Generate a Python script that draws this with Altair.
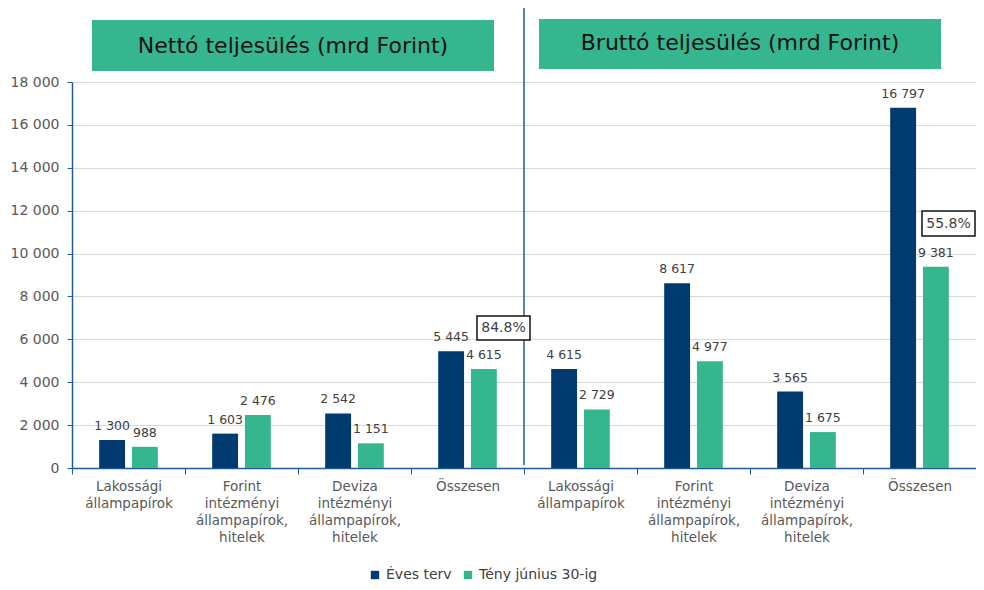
import altair as alt
import pandas as pd

groups = ["Nettó", "Nettó", "Nettó", "Nettó", "Bruttó", "Bruttó", "Bruttó", "Bruttó"]
categories = [
    "Lakossági|állampapírok",
    "Forint|intézményi|állampapírok,|hitelek",
    "Deviza|intézményi|állampapírok,|hitelek",
    "Összesen",
]
series = ["Éves terv", "Tény június 30-ig"]
eves_terv = [1300, 1603, 2542, 5445, 4615, 8617, 3565, 16797]
teny = [988, 2476, 1151, 4615, 2729, 4977, 1675, 9381]
headers = ["Nettó teljesülés (mrd Forint)", "Bruttó teljesülés (mrd Forint)"]
ratios = ["84.8%", "55.8%"]

NAVY = "#003a6f"
GREEN = "#35b68e"
AXIS_BLUE = "#1f5c99"

keys = [f"{g}|{c}" for g, c in zip(groups, categories * 2)]
rows = []
for k, a, b in zip(keys, eves_terv, teny):
    rows.append({"key": k, "series": series[0], "value": a})
    rows.append({"key": k, "series": series[1], "value": b})
df = pd.DataFrame(rows)

fmt = "replace(format(datum.value, ','), ',', ' ')"

x_scale = alt.Scale(domain=keys, paddingInner=0, paddingOuter=0)
x_enc = alt.X(
    "key:N", scale=x_scale,
    axis=alt.Axis(
        title=None, labelAngle=0, labelExpr="slice(split(datum.value, '|'), 1)",
        labelFontSize=13.5, labelColor="#595959", labelLineHeight=17,
        labelPadding=5, tickBand="extent", tickSize=6, tickColor=AXIS_BLUE,
        domainColor=AXIS_BLUE, domainWidth=1.5, grid=False, labelBaseline="top",
    ),
)
xo_scale = alt.Scale(domain=series, paddingInner=0.21, paddingOuter=0.83)
y_enc = alt.Y(
    "value:Q", scale=alt.Scale(domain=[0, 18000], nice=False),
    axis=alt.Axis(
        title=None, values=list(range(0, 18001, 2000)), labelExpr=fmt,
        labelFontSize=14, labelColor="#595959", labelPadding=8,
        tickSize=5, tickColor=AXIS_BLUE, domainColor=AXIS_BLUE, domainWidth=1.5,
        grid=True, gridColor="#d9d9d9", gridWidth=1.2,
    ),
)

base = alt.Chart(df)
bars = base.mark_bar().encode(
    x=x_enc, xOffset=alt.XOffset("series:N", scale=xo_scale), y=y_enc,
    color=alt.Color(
        "series:N",
        scale=alt.Scale(domain=series, range=[NAVY, GREEN]),
        legend=alt.Legend(
            title=None, orient="none", legendX=296, legendY=486,
            direction="horizontal", symbolType="square", symbolSize=70,
            labelFontSize=14, labelColor="#404040", columnPadding=9,
            symbolStrokeWidth=0,
        ),
    ),
)
labels = base.mark_text(dy=-14, fontSize=12.5, color="#404040").encode(
    x=alt.X("key:N", scale=x_scale), xOffset=alt.XOffset("series:N", scale=xo_scale),
    y="value:Q", text=alt.Text("label:N"),
).transform_calculate(label=fmt)

one = pd.DataFrame({"key": [keys[4]]})
divider = alt.Chart(one).mark_rule(color=AXIS_BLUE, strokeWidth=1.5).encode(
    x=alt.X("key:N", scale=x_scale, bandPosition=0), y=alt.value(-74), y2=alt.value(383)
)

dummy = pd.DataFrame({"d": [0]})
def rect(x, x2, y, y2, fill, stroke=None):
    kw = dict(fill=fill)
    if stroke:
        kw.update(stroke=stroke, strokeWidth=1.5)
    return alt.Chart(dummy).mark_rect(**kw).encode(
        x=alt.value(x), x2=alt.value(x2), y=alt.value(y), y2=alt.value(y2))

def txt(s, x, y, size, color):
    return alt.Chart(dummy).mark_text(text=s, fontSize=size, color=color).encode(
        x=alt.value(x), y=alt.value(y))

chart = alt.layer(
    rect(20, 422, -62, -11, GREEN),
    rect(467, 869, -63, -13, GREEN),
    bars, labels, divider,
    txt(headers[0], 221, -36, 22, "#111111"),
    txt(headers[1], 668, -39, 22, "#111111"),
    rect(405, 458, 234, 258, "white", "#111111"), txt(ratios[0], 431.5, 246, 14, "#404040"),
    rect(850, 903, 129, 154, "white", "#111111"), txt(ratios[1], 876.5, 141.5, 14, "#404040"),
).properties(
    width=904, height=386,
    padding={"left": 64, "top": 74, "right": 0, "bottom": 114},
    autosize="none",
).configure(font="DejaVu Sans").configure_view(stroke=None)

chart.save("out.html", embed_options={"renderer": "svg", "actions": False})
